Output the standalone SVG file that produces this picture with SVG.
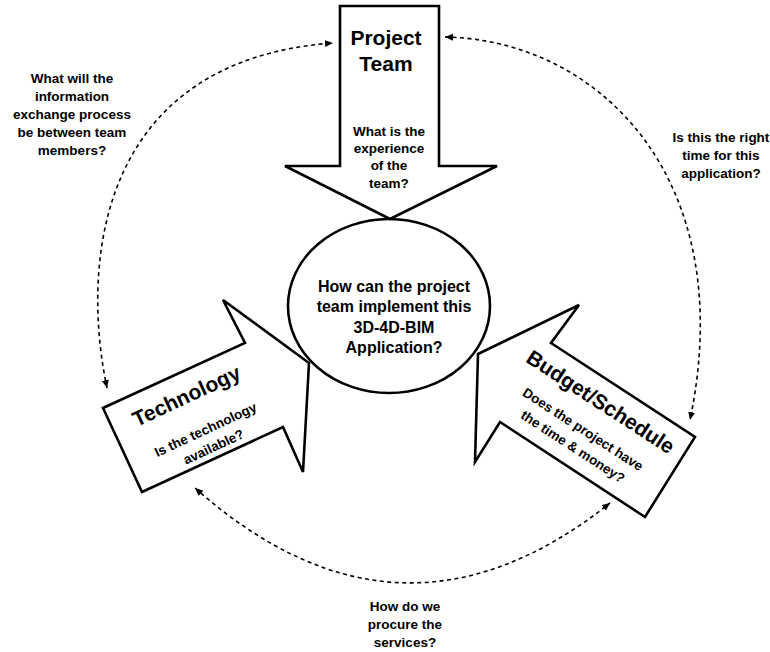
<svg xmlns="http://www.w3.org/2000/svg" width="770" height="652" viewBox="0 0 770 652">
<style>
.shape{fill:#fff;stroke:#000;stroke-width:2.6;stroke-linejoin:miter}
.ring{fill:none;stroke:#000;stroke-width:2.6}
.dash{fill:none;stroke:#000;stroke-width:1.6;stroke-dasharray:4 3.5}
text{font-family:"Liberation Sans",Arial,sans-serif;font-weight:bold;fill:#000;text-anchor:middle}
.big{font-size:21px}
.mid{font-size:16px}
.sm{font-size:13.5px}
</style>
<defs>
<marker id="ah" markerUnits="userSpaceOnUse" markerWidth="9" markerHeight="8" refX="8" refY="3.5" orient="auto-start-reverse">
<path d="M0,0 L8,3.5 L0,7 z" fill="#000"/>
</marker>
</defs>
<rect width="770" height="652" fill="#fff"/>

<g id="connectors">
<path class="dash" d="M107,388 C80,260 100,60 333,43" marker-start="url(#ah)" marker-end="url(#ah)"/>
<path class="dash" d="M445,37 C600,40 740,180 690,420" marker-start="url(#ah)" marker-end="url(#ah)"/>
<path class="dash" d="M195,488 Q400,670 610,503" marker-start="url(#ah)" marker-end="url(#ah)"/>
</g>

<g id="project-team">
<polygon class="shape" points="340,6 439,6 439,166 497,166 390,219 285,166 340,166"/>
<text class="big" x="386" y="45">Project</text>
<text class="big" x="386" y="71">Team</text>
<text class="sm" x="389" y="136">What is the</text>
<text class="sm" x="389" y="153">experience</text>
<text class="sm" x="389" y="170">of the</text>
<text class="sm" x="389" y="188">team?</text>
</g>

<g id="technology">
<polygon class="shape" points="309,363 223,300 245,343 103,408 142,492 283,427 303,472"/>
<g transform="translate(187,397) rotate(-25)">
<text class="big" x="0" y="6">Technology</text>
<text class="sm" x="3" y="42">Is the technology</text>
<text class="sm" x="3" y="61">available?</text>
</g>
</g>

<g id="budget-schedule">
<polygon class="shape" points="478,354 579,305 551,343 695,437 645,517 500,422 475,462"/>
<g transform="translate(600,403) rotate(33)">
<text class="big" x="0" y="6">Budget/Schedule</text>
<text class="sm" x="0" y="36">Does the project have</text>
<text class="sm" x="1" y="56">the time &amp; money?</text>
</g>
</g>

<g id="center">
<ellipse class="ring" cx="389" cy="306" rx="101" ry="87"/>
<text class="mid" x="394" y="292">How can the project</text>
<text class="mid" x="394" y="312">team implement this</text>
<text class="mid" x="394" y="333">3D-4D-BIM</text>
<text class="mid" x="394" y="353">Application?</text>
</g>

<g id="label-info">
<text class="sm" x="72" y="83">What will the</text>
<text class="sm" x="72" y="101">information</text>
<text class="sm" x="72" y="119">exchange process</text>
<text class="sm" x="72" y="137">be between team</text>
<text class="sm" x="72" y="155">members?</text>
</g>

<g id="label-time">
<text class="sm" x="721" y="142">Is this the right</text>
<text class="sm" x="721" y="160">time for this</text>
<text class="sm" x="721" y="178">application?</text>
</g>

<g id="label-procure">
<text class="sm" x="405" y="611">How do we</text>
<text class="sm" x="405" y="629">procure the</text>
<text class="sm" x="405" y="647">services?</text>
</g>
</svg>
